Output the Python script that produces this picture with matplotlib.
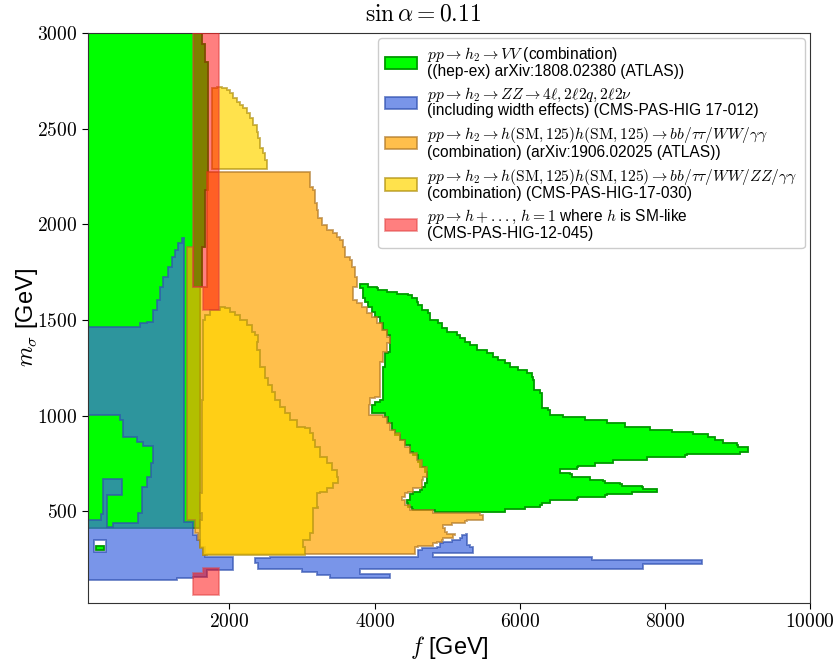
import numpy as np
import matplotlib.pyplot as plt
from matplotlib.patches import Polygon, PathPatch
from matplotlib.path import Path
from matplotlib.ticker import FuncFormatter

plt.rcParams['font.family'] = ['Liberation Sans', 'DejaVu Sans']
plt.rcParams['mathtext.fontset'] = 'cm'

# --- excluded regions, outlines in (f [GeV], m_sigma [GeV]) ---
# pp -> h2 -> VV (ATLAS), left block and right "arrow"
vv_left_f = [50, 50, 1618, 1618, 1659, 1659, 1700, 1700, 1659, 1659, 1618, 1618, 1590, 1590]
vv_left_m = [413, 3000, 3000, 2940, 2940, 2850, 2850, 2180, 2180, 1882, 1882, 1673, 1673, 413]
vv_dot_f = [155, 265, 265, 155]
vv_dot_m = [299, 299, 320, 320]
vv_right_f = [3800, 3895, 3908, 4033, 4046, 4171, 4309, 4460, 4516, 4585,
              4598, 4654, 4736, 4764, 4874, 4930, 4999, 5137, 5178, 5247,
              5316, 5413, 5551, 5633, 5702, 5799, 5868, 5978, 6103, 6172,
              6185, 6199, 6282, 6310, 6310, 6392, 6420, 6599, 6903, 7207,
              7455, 7800, 8104, 8393, 8600, 8697, 8807, 9001, 9014, 9152,
              9152, 9042, 9042, 8311, 8283, 7759, 7759, 7289, 7289, 7041,
              7041, 6806, 6793, 6558, 6558, 6696, 6724, 6944, 6972, 7151,
              7179, 7386, 7414, 7690, 7703, 7897, 7897, 7565, 7552, 7207,
              7179, 6806, 6793, 6461, 6420, 6310, 6282, 6103, 6075, 5799,
              5799, 4861, 4833, 4530, 4516, 4460, 4447, 4488, 4530, 4626,
              4654, 4695, 4723, 4695, 4626, 4598, 4530, 4488, 4419, 4350,
              4281, 4240, 4184, 4143, 4005, 3964, 3964, 4005, 4074, 4115,
              4115, 4143, 4184, 4212, 4212, 4171, 4115, 4074, 4005, 3964,
              3908, 3867, 3839, 3798]
vv_right_m = [1690, 1690, 1673, 1667, 1657, 1647, 1636, 1631, 1615, 1594,
              1579, 1552, 1537, 1500, 1485, 1458, 1438, 1422, 1406, 1385,
              1370, 1343, 1328, 1307, 1291, 1275, 1254, 1239, 1223, 1202,
              1187, 1134, 1119, 1066, 1040, 1030, 1004, 993, 978, 962,
              941, 925, 915, 904, 889, 873, 857, 847, 837, 831,
              810, 805, 800, 795, 784, 779, 769, 763, 753, 753,
              737, 732, 721, 721, 701, 695, 680, 680, 664, 659,
              648, 643, 633, 627, 617, 612, 601, 601, 591, 586,
              575, 570, 560, 560, 544, 534, 523, 523, 513, 513,
              497, 497, 507, 513, 523, 544, 560, 591, 601, 612,
              627, 648, 706, 732, 758, 795, 810, 847, 873, 899,
              925, 962, 993, 1014, 1014, 1030, 1056, 1072, 1082, 1098,
              1254, 1328, 1333, 1380, 1422, 1448, 1485, 1516, 1542, 1568,
              1594, 1615, 1667, 1678]

# pp -> h2 -> ZZ (CMS)
zz_left_f = [50, 734, 762, 859, 941, 997, 1038, 1079, 1148, 1204,
             1245, 1286, 1342, 1370, 1370, 1493, 1493, 1548, 1590, 1659,
             1659, 2045, 2045, 1686, 1686, 1493, 1493, 1272, 1272, 50,
             50, 182, 224, 251, 251, 514, 514, 307, 307, 389,
             389, 721, 734, 734, 790, 790, 859, 859, 914, 914,
             941, 941, 803, 803, 721, 721, 527, 527, 486, 486, 50]
zz_left_m = [1464, 1464, 1484, 1490, 1552, 1605, 1673, 1725, 1777, 1829,
             1866, 1903, 1929, 1934, 444, 444, 377, 350, 314, 283,
             262, 262, 194, 194, 157, 157, 152, 152, 141, 141,
             455, 455, 486, 486, 670, 670, 586, 586, 418, 418,
             439, 439, 455, 492, 492, 627, 648, 680, 680, 753,
             753, 842, 842, 863, 863, 889, 889, 978, 978, 1004, 1004]
zz_hole_f = [127, 293, 293, 127]
zz_hole_m = [288, 288, 350, 350]
zz_band_f = [2349, 2556, 2556, 4585, 4598, 4654, 4861, 4902, 4943, 5068,
             5178, 5206, 5261, 5275, 5316, 5357, 5357, 4806, 4806, 7000,
             7000, 8518, 8518, 7703, 7703, 3798, 3798, 4212, 4212, 3384,
             3384, 3205, 3205, 2998, 2998, 2390, 2390, 2349]
zz_band_m = [256, 256, 262, 262, 298, 309, 314, 335, 340, 350,
             361, 377, 382, 324, 314, 304, 283, 283, 262, 262,
             246, 246, 225, 225, 199, 199, 173, 173, 152, 152,
             168, 178, 184, 184, 199, 199, 230, 236]

# pp -> h2 -> hh (ATLAS)
atlas_hh_f = [3067, 3108, 3108, 3149, 3177, 3205, 3218, 3274, 3343, 3425,
              3481, 3522, 3563, 3591, 3660, 3688, 3729, 3757, 3701, 3701,
              3757, 3826, 3895, 3964, 4033, 4102, 4171, 4212, 4171, 4115,
              4074, 4074, 4005, 3936, 3922, 4115, 4171, 4212, 4281, 4350,
              4419, 4488, 4585, 4654, 4723, 4723, 4667, 4654, 4530, 4460,
              4419, 4378, 4419, 4488, 4806, 4806, 5454, 5495, 5275, 5247,
              5068, 5068, 4943, 4943, 4971, 4999, 5109, 5081, 4999, 4943,
              4930, 4861, 4806, 4598, 4557, 4557, 1687, 1631, 1590, 1562,
              1521, 1521, 1411, 1411, 1493, 1493, 1687, 1687]
atlas_hh_m = [2274, 2247, 2195, 2180, 2112, 2075, 2033, 1997, 1971, 1955,
              1934, 1918, 1882, 1829, 1814, 1777, 1725, 1673, 1657, 1605,
              1589, 1568, 1537, 1516, 1485, 1448, 1411, 1380, 1333, 1281,
              1254, 1098, 1093, 1056, 1004, 993, 962, 925, 910, 873,
              836, 805, 769, 732, 706, 680, 664, 622, 601, 596,
              575, 560, 533, 507, 497, 492, 481, 455, 450, 439,
              439, 429, 429, 413, 392, 382, 377, 361, 361, 350,
              340, 335, 319, 314, 298, 277, 272, 314, 350, 387,
              403, 455, 455, 1882, 1882, 1673, 1673, 2274]

# pp -> h2 -> hh (CMS), upper and lower patch
cms_hh_top_f = [1756, 1825, 1894, 1963, 2004, 2045, 2101, 2142, 2183, 2239,
                2280, 2321, 2377, 2390, 2418, 2459, 2487, 2515, 2515, 1756]
cms_hh_top_m = [2713, 2718, 2713, 2702, 2687, 2660, 2639, 2624, 2608, 2582,
                2556, 2519, 2483, 2451, 2399, 2373, 2336, 2295, 2289, 2289]
cms_hh_low_f = [1659, 1728, 1866, 1935, 2004, 2073, 2142, 2239, 2308, 2349,
                2390, 2377, 2418, 2487, 2528, 2584, 2625, 2694, 2763, 2832,
                2929, 3039, 3108, 3149, 3177, 3246, 3343, 3412, 3481, 3494,
                3425, 3343, 3246, 3205, 3205, 3218, 3149, 3149, 3108, 3011,
                3039, 1687, 1631, 1590, 1590, 1618, 1590, 1618, 1631]
cms_hh_low_m = [1526, 1552, 1568, 1563, 1542, 1526, 1500, 1474, 1438, 1422,
                1385, 1343, 1255, 1197, 1161, 1124, 1082, 1046, 1014, 978,
                941, 936, 910, 873, 836, 784, 753, 716, 680, 648,
                622, 601, 596, 575, 523, 518, 492, 387, 350, 314,
                272, 272, 309, 350, 455, 492, 596, 1082, 1500]

# h SM-like (CMS)
sm_top_f = [1493, 1852, 1852, 1631, 1631, 1493]
sm_top_m = [3000, 3000, 1552, 1552, 1673, 1673]
sm_low_f = [1493, 1493, 1631, 1631, 1852, 1852]
sm_low_m = [63, 178, 178, 204, 204, 63]

labels = [
    r'$pp \to h_2 \to VV$ (combination)' + '\n((hep-ex) arXiv:1808.02380 (ATLAS))',
    r'$pp \to h_2 \to ZZ \to 4\ell, 2\ell 2q, 2\ell 2\nu$' + '\n(including width effects) (CMS-PAS-HIG 17-012)',
    r'$pp \to h_2 \to h(\mathrm{SM}, 125)h(\mathrm{SM}, 125) \to bb/\tau\tau/WW/\gamma\gamma$'
    + '\n(combination) (arXiv:1906.02025 (ATLAS))',
    r'$pp \to h_2 \to h(\mathrm{SM}, 125)h(\mathrm{SM}, 125) \to bb/\tau\tau/WW/ZZ/\gamma\gamma$'
    + '\n(combination) (CMS-PAS-HIG-17-030)',
    r'$pp \to h + ...,\, h = 1$ where $h$ is SM-like' + '\n(CMS-PAS-HIG-12-045)',
]

styles = [
    dict(facecolor='#00ff00', edgecolor='#009a00', alpha=1.0),
    dict(facecolor='royalblue', edgecolor='#3050b0', alpha=0.7),
    dict(facecolor='orange', edgecolor='#b07828', alpha=0.7),
    dict(facecolor='gold', edgecolor='#b09010', alpha=0.7),
    dict(facecolor='red', edgecolor='#e04040', alpha=0.5),
]


def stairs(f, m):
    # contour outlines are grid steps: go along f first, then along m
    xs, ys = [f[0]], [m[0]]
    for x, y in zip(f[1:] + f[:1], m[1:] + m[:1]):
        if x != xs[-1] and y != ys[-1]:
            xs.append(x)
            ys.append(ys[-1])
        xs.append(x)
        ys.append(y)
    return np.column_stack([xs, ys])


fig = plt.figure(figsize=(8.35, 6.6), dpi=100)
ax = fig.add_axes([0.1054, 0.0864, 0.8646, 0.8636])

lw = 1.3
# VV
ax.add_patch(Polygon(stairs(vv_left_f, vv_left_m), lw=lw, zorder=1, label=labels[0], **styles[0]))
ax.add_patch(Polygon(stairs(vv_right_f, vv_right_m), lw=lw, zorder=1, **styles[0]))
ax.add_patch(Polygon(stairs(vv_dot_f, vv_dot_m), lw=lw, zorder=1, **styles[0]))

# ZZ, left part has a small hole
outer = stairs(zz_left_f, zz_left_m)
hole = stairs(zz_hole_f, zz_hole_m)
verts = np.vstack([outer, outer[:1], hole, hole[:1]])
codes = ([Path.MOVETO] + [Path.LINETO] * (len(outer) - 1) + [Path.CLOSEPOLY]
         + [Path.MOVETO] + [Path.LINETO] * (len(hole) - 1) + [Path.CLOSEPOLY])
ax.add_patch(PathPatch(Path(verts, codes), lw=lw, zorder=2, label=labels[1], **styles[1]))
ax.add_patch(Polygon(stairs(zz_band_f, zz_band_m), lw=lw, zorder=2, **styles[1]))

# hh ATLAS
ax.add_patch(Polygon(stairs(atlas_hh_f, atlas_hh_m), lw=lw, zorder=3, label=labels[2], **styles[2]))

# hh CMS
ax.add_patch(Polygon(stairs(cms_hh_top_f, cms_hh_top_m), lw=lw, zorder=4, label=labels[3], **styles[3]))
ax.add_patch(Polygon(stairs(cms_hh_low_f, cms_hh_low_m), lw=lw, zorder=4, **styles[3]))

# SM-like h
ax.add_patch(Polygon(stairs(sm_top_f, sm_top_m), lw=lw, zorder=5, label=labels[4], **styles[4]))
ax.add_patch(Polygon(stairs(sm_low_f, sm_low_m), lw=lw, zorder=5, **styles[4]))

ax.set_xlim(50, 10000)
ax.set_ylim(20, 3000)
ax.set_xticks([2000, 4000, 6000, 8000, 10000])
ax.set_yticks([500, 1000, 1500, 2000, 2500, 3000])
fmt = FuncFormatter(lambda v, _: r'$%d$' % v)
ax.xaxis.set_major_formatter(fmt)
ax.yaxis.set_major_formatter(fmt)
ax.tick_params(labelsize=14, direction='out', length=4)
for s in ax.spines.values():
    s.set_color('#333333')

fig.text(0.507, 0.978, r'$\sin\alpha = 0.11$', fontsize=17, ha='center', va='center')
ax.set_xlabel(r'$f$ [GeV]', fontsize=17, labelpad=2)
ax.set_ylabel(r'$m_\sigma$ [GeV]', fontsize=17, labelpad=-2)

leg = ax.legend(loc='upper right', fontsize=11.2, handlelength=2.0, handleheight=0.85,
                handletextpad=0.7, labelspacing=0.45, borderpad=0.45, borderaxespad=0.35,
                framealpha=1, edgecolor='#cccccc')
for t in leg.get_texts():
    t.set_linespacing(0.95)

fig.savefig('out.png', dpi=100)
